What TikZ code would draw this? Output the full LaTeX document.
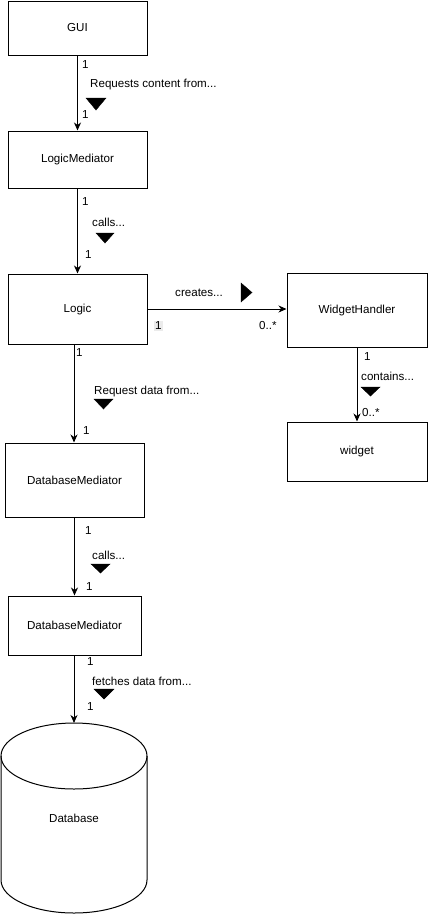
\documentclass[tikz,border=0pt]{standalone}
\usepackage{fontspec}
\setmainfont{Liberation Sans}
\usetikzlibrary{arrows.meta}

\begin{document}
\begin{tikzpicture}[x=1pt,y=-1pt,font=\fontsize{11.6}{13}\selectfont,
        box/.style={draw,line width=1pt,minimum width=139pt,inner sep=0pt},
        lbl/.style={anchor=west,inner sep=0pt},
        conn/.style={line width=1pt,-{Stealth[length=8pt,width=7pt,inset=2.5pt]}}]
        \useasboundingbox (0,0) rectangle (428,914);
        % classes
        \node[box,minimum height=54pt] (gui) at (77.5,28) {GUI};
        \node[box,minimum height=57pt] (lmed) at (77.5,159.5) {LogicMediator};
        \node[box,minimum height=70pt] (logic) at (77.5,309) {Logic};
        \node[box,minimum width=140pt,minimum height=74pt] (whandler) at (357,310) {WidgetHandler};
        \node[box,minimum width=140pt,minimum height=59pt] (widget) at (357,451.5) {widget};
        \node[box,minimum height=74pt] (dbmed) at (74.5,480) {DatabaseMediator};
        \node[box,minimum width=133pt,minimum height=59pt] (dbmedb) at (74.5,625.5) {DatabaseMediator};
        % database cylinder
        \node (db) at (74,818) {Database};
        \coordinate (dbtop) at (74,723);
        \draw[line width=1pt] (74,756) ellipse [x radius=73, y radius=33];
        \draw[line width=1pt] (1,756) -- (1,880) arc [start angle=180, end angle=0, x radius=73, y radius=33] -- (147,756);
        % connectors
        \draw[conn] (gui) -- (lmed);
        \draw[conn] (lmed) -- (logic);
        \draw[conn] (logic.east) -- (logic.east -| whandler.west);
        \draw[conn] (whandler) -- (widget);
        \draw[conn] (logic.south -| 74,0) -- (dbmed.north -| 74,0);
        \draw[conn] (dbmed) -- (dbmedb);
        \draw[conn] (dbmedb.south -| dbtop) -- (dbtop);
        % labels
        \node[lbl] at (82,65) {1};
        \node[lbl] at (90,85) {Requests content from...};
        \node[lbl] at (82,115) {1};
        \filldraw (86,98) -- +(20,0) -- +(10,12) -- cycle;
        \node[lbl] at (82,202) {1};
        \node[lbl] at (92,222) {calls...};
        \node[lbl] at (85,255) {1};
        \filldraw (96,233) -- +(18,0) -- +(9,10) -- cycle;
        \node[lbl] at (175,293) {creates...};
        \filldraw (241,283) -- +(0,19) -- +(11,9.5) -- cycle;
        \node[lbl,fill=black!8,inner sep=1pt] at (154,326) {1};
        \node[lbl] at (259,325) {0..*};
        \node[lbl] at (76,353) {1};
        \node[lbl] at (94,391) {Request data from...};
        \node[lbl] at (83,431) {1};
        \filldraw (94,399) -- +(19,0) -- +(9.5,10) -- cycle;
        \node[lbl] at (364,357) {1};
        \node[lbl] at (361,376) {contains...};
        \node[lbl] at (362,412) {0..*};
        \filldraw (361,387) -- +(19,0) -- +(9.5,9) -- cycle;
        \node[lbl] at (85,531) {1};
        \node[lbl] at (92,555) {calls...};
        \node[lbl] at (86,586) {1};
        \filldraw (91,564) -- +(19,0) -- +(9.5,9) -- cycle;
        \node[lbl] at (87,661) {1};
        \node[lbl] at (92,681) {fetches data from...};
        \node[lbl] at (87,706) {1};
        \filldraw (94,689) -- +(20,0) -- +(10,10) -- cycle;
\end{tikzpicture}
\end{document}
